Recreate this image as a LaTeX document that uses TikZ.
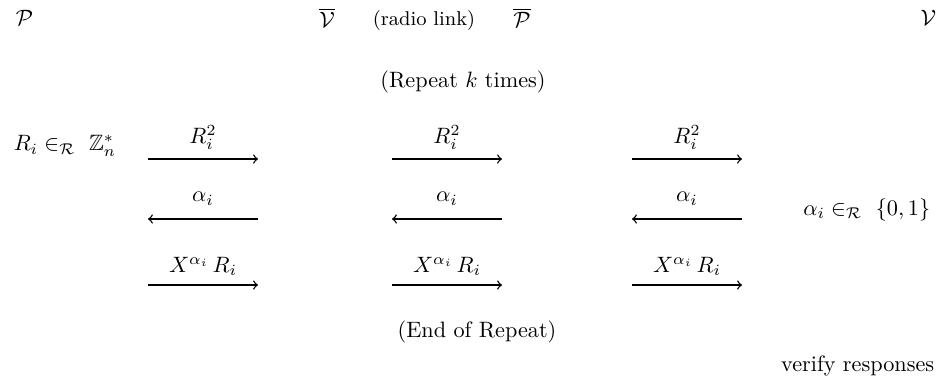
\documentclass[tikz,border=0pt]{standalone}
\usepackage{amssymb}
\tikzset{msg/.style={->,line width=.6pt},lbl/.style={above=4pt,inner sep=0pt}}
\begin{document}
\begin{tikzpicture}[x=.45pt,y=-.45pt]
\useasboundingbox(0,0)rectangle(945,382);
\node[anchor=west](P)at(8,18){$\mathcal{P}$};\node(Vbar)at(327,18){$\overline{\mathcal{V}}$};
\node[font=\small](link)at(424,20){(radio link)};\node(Pbar)at(522,18){$\overline{\mathcal{P}}$};
\node[anchor=east](V)at(944,18){$\mathcal{V}$};
\node(rep)at(463,82){(Repeat $k$ times)};
\node[anchor=west](Ri)at(6,146){$R_i\in_{\mathcal{R}}\ \mathbb{Z}_n^{*}$};
\node[anchor=east](alpha)at(938,210){$\alpha_i\in_{\mathcal{R}}\ \{0,1\}$};
\foreach \c/\x in {a/148,b/392,c/632}{
\coordinate(\c1l)at(\x,159);\coordinate(\c1r)at(\x+110,159);
\coordinate(\c2l)at(\x,219);\coordinate(\c2r)at(\x+110,219);
\coordinate(\c3l)at(\x,285);\coordinate(\c3r)at(\x+110,285);
\draw[msg](\c1l)--node[lbl]{$R_i^2$}(\c1r);
\draw[msg](\c2r)--node[lbl,above=2pt]{$\alpha_i$}(\c2l);
\draw[msg](\c3l)--node[lbl]{$X^{\alpha_i}\,R_i$}(\c3r);}
\node(endrep)at(477,332){(End of Repeat)};
\node[anchor=east](verify)at(942,366){verify responses};
\end{tikzpicture}
\end{document}
